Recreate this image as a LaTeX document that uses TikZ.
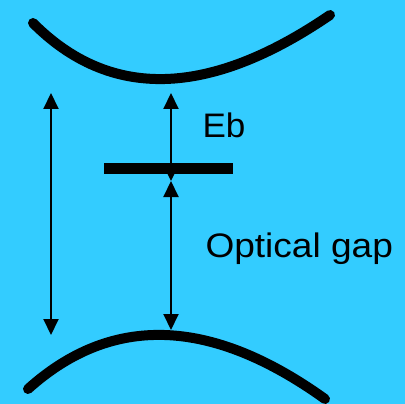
\documentclass[tikz,border=0pt]{standalone}
\usepackage{fontspec}
\setmainfont{Liberation Sans}
\usetikzlibrary{arrows.meta}
\definecolor{bg}{RGB}{51,204,255}
\begin{document}
\begin{tikzpicture}[x=1pt,y=-1pt,
  band/.style={line width=10pt,line cap=round},
  lvl/.style={line width=11pt},
  arr/.style={line width=2pt,{Triangle[length=16pt,width=15pt]}-{Triangle[length=16pt,width=15pt]}},
  lab/.style={anchor=base west,inner sep=0pt,font=\fontsize{34}{40}\selectfont}]
\fill[bg] (0,0) rectangle (405,404);
\useasboundingbox (0,0) rectangle (405,404);
% bands
\draw[band] (33,23) .. controls (110,100.3) and (209,97.7) .. (330,15);
\draw[band] (28,389) .. controls (111.7,313.7) and (210.7,317) .. (325,399);
% defect level
\coordinate (lvlL) at (104,168.5);
\coordinate (lvlR) at (233,168.5);
\draw[lvl] (lvlL) -- (lvlR);
% arrows
\coordinate (lt) at (51,93);
\coordinate (lb) at (51,335);
\coordinate (mt) at (171,93);
\coordinate (mm) at (171,181);
\coordinate (mb) at (171,330);
\draw[arr] (lb) -- (lt);
\draw[arr] (mm) -- (mt);
\draw[arr] (mm) -- (mb);
% labels
\node[lab] (eb) at (202.3,137.7) {\scalebox{1.03}[1]{Eb}};
\node[lab] (og) at (205.3,257.5) {\scalebox{1.09}[1]{Optical gap}};
\end{tikzpicture}
\end{document}
